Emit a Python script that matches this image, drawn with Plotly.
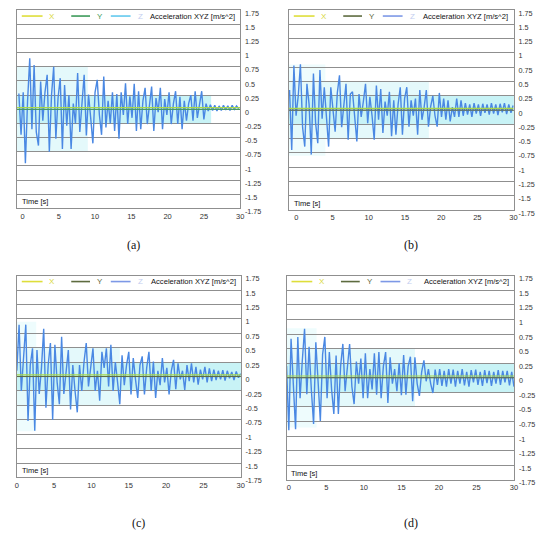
"""
Acceleration XYZ - four panels (a)-(d), Z axis signal with X / Y baselines
"""
import plotly.graph_objects as go
from plotly.subplots import make_subplots

# ---- data -------------------------------------------------------------
DT = 0.3  # sample spacing [s]

T0_A = -0.5
Z_A = [0.28, -0.45, 0.30, -0.95, 0.15, 0.90, -0.35, 0.78, -0.40, -0.64,
       0.49, -0.20, 0.30, 0.61, -0.75, 0.25, 0.75, -0.52, 0.20, 0.55,
       -0.70, 0.43, -0.29, 0.25, -0.70, 0.10, -0.25, 0.64, -0.40, 0.20,
       0.61, -0.46, 0.26, -0.15, -0.60, 0.30, 0.52, -0.10, -0.45, 0.58,
       -0.32, 0.15, -0.25, 0.30, -0.38, 0.27, -0.52, 0.30, -0.10, 0.46,
       -0.26, 0.23, -0.15, 0.45, -0.38, 0.32, -0.35, 0.15, 0.38, -0.26,
       0.12, 0.40, -0.38, 0.20, -0.05, 0.38, -0.35, 0.18, -0.10, 0.30,
       -0.26, 0.10, 0.32, -0.26, 0.22, -0.35, 0.15, -0.20, 0.10, 0.25,
       -0.20, 0.32, -0.15, 0.10, 0.32, -0.18, 0.10, -0.03, 0.08, -0.02,
       0.07, -0.03, 0.06, -0.02, 0.07, -0.01, 0.06, -0.02, 0.07, 0.00,
       0.06, 0.01]

T0_B = -0.95
Z_B = [0.35, -0.70, 0.78, -0.10, 0.25, 0.80, -0.30, -0.64, 0.46, 0.10,
       -0.78, 0.64, -0.23, -0.58, 0.70, -0.15, 0.40, -0.20, -0.64, 0.40,
       0.05, -0.38, 0.30, 0.61, -0.30, 0.15, 0.46, -0.52, 0.28, 0.32,
       -0.15, -0.55, 0.28, -0.12, 0.15, 0.46, -0.23, 0.23, -0.10, -0.52,
       0.43, -0.17, 0.37, -0.40, 0.15, -0.10, 0.32, -0.46, 0.17, -0.43,
       0.10, 0.40, -0.43, 0.20, 0.40, -0.29, 0.17, -0.10, 0.20, -0.43,
       0.35, -0.17, 0.05, 0.35, -0.29, 0.06, 0.25, -0.10, -0.29, 0.30,
       -0.12, 0.20, -0.17, 0.17, -0.20, 0.05, -0.12, 0.20, -0.12, 0.17,
       -0.10, 0.12, -0.08, 0.10, -0.12, 0.12, -0.06, 0.10, -0.10, 0.11,
       -0.05, 0.10, -0.08, 0.12, -0.06, 0.10, -0.09, 0.11, -0.04, 0.12,
       -0.07, 0.10, -0.05, 0.08]

T0_C = 0.0
Z_C = [0.10, 0.90, -0.25, 0.30, 0.90, -0.77, 0.20, 0.49, -0.94, 0.46,
       -0.30, 0.15, 0.83, -0.54, 0.20, 0.58, -0.75, 0.55, -0.10, -0.48,
       0.69, -0.30, 0.10, 0.46, -0.57, 0.20, -0.25, -0.62, 0.20, -0.25,
       0.25, 0.58, -0.17, 0.20, 0.49, -0.25, 0.10, -0.42, 0.43, 0.15,
       0.49, -0.17, 0.55, -0.25, 0.25, -0.10, -0.48, 0.37, -0.15, 0.20,
       0.43, -0.31, 0.32, -0.05, -0.37, 0.20, 0.35, -0.31, 0.15, 0.43,
       -0.25, 0.26, -0.37, 0.10, -0.15, 0.32, -0.10, 0.15, -0.31, 0.10,
       0.29, -0.22, 0.23, -0.05, 0.10, -0.23, 0.20, -0.08, 0.23, -0.10,
       0.17, -0.14, 0.12, -0.05, 0.17, -0.10, 0.14, -0.08, 0.12, -0.06,
       0.10, -0.05, 0.11, -0.07, 0.10, -0.03, 0.08, -0.06, 0.09, -0.02,
       0.05]

T0_D = -0.3
Z_D = [0.20, -0.90, 0.67, -0.20, -0.88, 0.70, -0.35, 0.30, 0.84, -0.28,
       0.53, -0.20, -0.79, 0.61, -0.20, -0.74, 0.40, 0.70, -0.35, 0.44,
       -0.20, -0.62, 0.38, -0.62, 0.20, 0.58, -0.23, 0.20, 0.58, -0.15,
       -0.45, 0.28, -0.10, 0.33, -0.35, 0.42, -0.35, 0.15, -0.20, 0.42,
       -0.29, 0.44, -0.35, 0.20, 0.44, -0.43, 0.35, -0.10, 0.15, -0.23,
       0.25, -0.30, 0.39, -0.29, 0.20, 0.36, -0.40, 0.35, -0.10, -0.31,
       0.10, 0.30, -0.06, 0.15, -0.10, -0.26, 0.14, -0.12, 0.15, -0.14,
       0.12, -0.15, 0.15, -0.10, 0.14, -0.15, 0.12, -0.10, 0.15, -0.13,
       0.10, -0.15, 0.13, -0.08, 0.14, -0.12, 0.10, -0.14, 0.13, -0.09,
       0.12, -0.14, 0.10, -0.10, 0.13, -0.12, 0.12, -0.08, 0.12, -0.13,
       0.10, -0.15]

# X / Y are almost flat
XY_T = [-1, 5, 10, 15, 20, 25, 30]
X_VALS = [0.03, 0.03, 0.03, 0.03, 0.03, 0.03, 0.03]
Y_VALS = [0.0, 0.0, 0.0, 0.0, 0.0, 0.0, 0.0]

X_TICKS = [0, 5, 10, 15, 20, 25, 30]
Y_TICKS = [1.75, 1.5, 1.25, 1, 0.75, 0.5, 0.25, 0, -0.25, -0.5, -0.75, -1, -1.25, -1.5, -1.75]
Y_TICK_TEXT = ['1.75', '1.5', '1.25', '1', '0.75', '0.5', '0.25', '0', '-0.25', '-0.5',
               '-0.75', '-1', '-1.25', '-1.5', '-1.75']

SERIES = ['X', 'Y', 'Z']
PANEL_LABELS = ['(a)', '(b)', '(c)', '(d)']
# shaded zones: (t_end, half height)
BANDS_A = [(9, 0.75), (26, 0.25)]
BANDS_B = [(4, 0.8), (18.3, 0.5), (30.1, 0.25)]
BANDS_C = [(2.6, 0.95), (13.8, 0.5), (30.1, 0.25)]
BANDS_D = [(3.7, 0.85), (16.8, 0.5), (30.1, 0.25)]

# ---- layout per panel ---------------------------------------------------
W, H = 550, 542
FONT = 'Arial, Liberation Sans, sans-serif'

panels = [
    dict(t0=T0_A, z=Z_A, bands=BANDS_A, xr=[-0.78, 30.03],
         px=(15, 241), py=(9.3, 211), y_col='#3d9a5a', z_col='#63c9ee'),
    dict(t0=T0_B, z=Z_B, bands=BANDS_B, xr=[-1.05, 30.05],
         px=(290, 517.5), py=(9.3, 212.5), y_col='#5d6b3f', z_col='#7d98e6'),
    dict(t0=T0_C, z=Z_C, bands=BANDS_C, xr=[0, 30.02],
         px=(15, 241.5), py=(279.3, 484.5), y_col='#5d6b3f', z_col='#7d98e6'),
    dict(t0=T0_D, z=Z_D, bands=BANDS_D, xr=[-0.3, 30.05],
         px=(287.7, 518), py=(279.3, 487), y_col='#5d6b3f', z_col='#7d98e6'),
]
label_pos = [(133, 248), (414, 248), (138, 530.5), (414, 530.5)]
band_colors = ['#eefcfd', '#e4f9fb', '#c8f3f6']
# legend swatch offsets from panel left edge (line start, line end, text)
leg_off = [(5, 26, 31), (55, 74, 79), (95, 115, 120)]

fig = make_subplots(rows=2, cols=2)
shapes = []
annotations = []

for k, p in enumerate(panels):
    row, col = k // 2 + 1, k % 2 + 1
    sfx = '' if k == 0 else str(k + 1)
    t = [p['t0'] + DT * i for i in range(len(p['z']))]

    fig.add_trace(go.Scatter(
        x=t, y=p['z'], mode='lines', name='Z', showlegend=False,
        line=dict(color='#4a88e3', width=1.4)), row=row, col=col)
    fig.add_trace(go.Scatter(
        x=XY_T, y=Y_VALS, mode='lines', name='Y', showlegend=False,
        line=dict(color=p['y_col'], width=1.0)), row=row, col=col)
    fig.add_trace(go.Scatter(
        x=XY_T, y=X_VALS, mode='lines', name='X', showlegend=False,
        line=dict(color='#a9d84a', width=1.1)), row=row, col=col)

    x0, x1 = p['px'][0] / W, p['px'][1] / W
    y0, y1 = 1 - p['py'][1] / H, 1 - p['py'][0] / H
    fig.update_layout({
        'xaxis' + sfx: dict(domain=[x0, x1], range=p['xr'], tickvals=X_TICKS,
                            showgrid=False, zeroline=False, showline=True, mirror=True,
                            linecolor='#8f8f8f', linewidth=1.2, ticks='',
                            tickfont=dict(size=7.5, color='#333', family=FONT)),
        'yaxis' + sfx: dict(domain=[y0, y1], range=[-1.75, 1.75], side='right',
                            tickvals=Y_TICKS, ticktext=Y_TICK_TEXT,
                            showgrid=True, gridcolor='#8f8f8f', gridwidth=1.2,
                            zeroline=False, showline=True, mirror=True,
                            linecolor='#8f8f8f', linewidth=1.2, ticks='',
                            ticklabelstandoff=2, ticklabelshift=3,
                            tickfont=dict(size=7.2, color='#333', family=FONT)),
    })

    xr = 'x' + sfx
    yr = 'y' + sfx
    for j, (t_end, half) in enumerate(p['bands']):
        colr = band_colors[j + (3 - len(p['bands']))]
        shapes.append(dict(type='rect', xref=xr, yref=yr, x0=p['xr'][0], x1=t_end,
                           y0=-half, y1=half, fillcolor=colr, line_width=0, layer='below'))

    # legend row drawn by hand (coloured letters, short swatches)
    leg_y = 1 - (p['py'][0] + 6) / H
    colors = ['#dede3a', p['y_col'], p['z_col']]
    text_colors = ['#d8d83a', p['y_col'], '#c3cdef']
    for name, (a, b, c), lc, tc in zip(SERIES, leg_off, colors, text_colors):
        shapes.append(dict(type='line', xref='paper', yref='paper',
                           x0=(p['px'][0] + a) / W, x1=(p['px'][0] + b) / W,
                           y0=leg_y, y1=leg_y, line=dict(color=lc, width=1.6)))
        annotations.append(dict(text=name, xref='paper', yref='paper',
                                x=(p['px'][0] + c) / W, y=leg_y, xanchor='left',
                                yanchor='middle', showarrow=False,
                                font=dict(size=8, color=tc, family=FONT)))

    annotations.append(dict(text='Acceleration XYZ [m/s^2]', xref=xr + ' domain', yref='paper',
                            x=0.985, y=leg_y, xanchor='right', yanchor='middle',
                            showarrow=False, font=dict(size=7.6, color='#111', family=FONT)))
    annotations.append(dict(text='Time [s]', xref=xr + ' domain', yref=yr + ' domain',
                            x=0.012, y=0.0, xanchor='left', yanchor='bottom',
                            showarrow=False, font=dict(size=7.5, color='#111', family=FONT)))
    lx, ly = label_pos[k]
    annotations.append(dict(text=PANEL_LABELS[k], xref='paper', yref='paper',
                            x=lx / W, y=1 - ly / H, xanchor='center', yanchor='middle',
                            showarrow=False,
                            font=dict(size=12, color='#111',
                                      family='Liberation Serif, Times New Roman, serif')))

fig.update_layout(
    width=W, height=H,
    margin=dict(l=0, r=0, t=0, b=0),
    paper_bgcolor='white', plot_bgcolor='white',
    font=dict(family=FONT),
    showlegend=False,
    shapes=shapes,
    annotations=annotations,
)

# page body has a default margin; drop it so the figure fills the window
fig.write_html("out.html",
               config={'displayModeBar': False},
               post_script="document.body.style.margin='0';"
                           "document.documentElement.style.overflow='hidden';")
